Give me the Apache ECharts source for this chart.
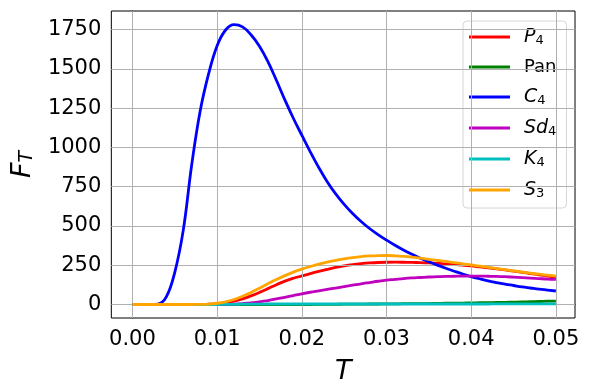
<!DOCTYPE html>
<html>
<head>
<meta charset="utf-8">
<script src="https://cdn.jsdelivr.net/npm/echarts@6/dist/echarts.min.js"></script>
<style>
html, body { margin: 0; padding: 0; background: #fff; }
#chartdata { width: 589px; height: 390px; }
</style>
</head>
<body>
<div id="chartdata"></div>
<script>
var tvals = [0.000, 0.001, 0.002, 0.003, 0.004, 0.005, 0.006, 0.007, 0.008, 0.009,
  0.010, 0.011, 0.012, 0.013, 0.014, 0.015, 0.016, 0.017, 0.018, 0.019,
  0.020, 0.021, 0.022, 0.023, 0.024, 0.025, 0.026, 0.027, 0.028, 0.029,
  0.030, 0.031, 0.032, 0.033, 0.034, 0.035, 0.036, 0.037, 0.038, 0.039,
  0.040, 0.041, 0.042, 0.043, 0.044, 0.045, 0.046, 0.047, 0.048, 0.049, 0.050]

var p4 = [0, 0, 0, 0, 0, 0, 0, 0, 0, 2,
  5, 11, 21, 36, 55, 77, 101, 126, 149, 167,
  182, 197, 211, 224, 236, 246, 254, 260, 264.5, 267.5,
  269, 269.5, 269, 268, 266.5, 264.5, 262, 259, 255, 250.5,
  245.5, 239.5, 233.5, 227, 220, 212.5, 205, 197, 189, 181, 173]
var pan = [0, 0, 0, 0, 0, 0, 0, 0, 0, 0,
  0, 0, 0, 0, 0, 0, 0, 0, 0, 0,
  0, 0, 1, 1, 1, 2, 2, 2, 3, 3,
  4, 4, 5, 5, 6, 6, 7, 8, 8, 9,
  10, 11, 12, 13, 14, 15, 16, 18, 19, 21, 22]
var c4 = [0, 0, 0, 3, 48, 205, 472, 890, 1232, 1470,
  1648, 1748, 1782, 1768, 1718, 1645, 1547, 1428, 1303, 1186,
  1078, 972, 872, 782, 704, 638, 580, 529, 484, 445,
  410, 377, 347, 320, 295, 272, 251, 231, 212, 194,
  178, 164, 151, 140, 130, 121, 112, 105, 98, 92, 86]
var sd4 = [0, 0, 0, 0, 0, 0, 0, 0, 0, 0,
  0, 1, 3, 6, 10, 16, 25, 35, 46, 57,
  68, 78, 87, 96, 105, 114, 123, 132, 140, 148,
  155, 160, 165, 169, 172, 175, 177, 179, 180, 181,
  181, 181, 180, 179, 177, 174, 171, 168, 165, 162, 160]
var k4 = [0, 0, 0, 0, 0, 0, 0, 0, 0, 0,
  0, 1, 1, 2, 2, 2, 3, 3, 3, 3,
  3, 3, 3, 3, 3, 3, 3, 3, 3, 3,
  3, 3, 3, 3, 3, 3, 3, 3, 3, 3,
  3, 3, 3, 4, 4, 4, 4, 4, 4, 4, 4]
var s3 = [0, 0, 0, 0, 0, 0, 0, 0, 1, 3,
  8, 17, 32, 52, 77, 104, 132, 159, 184, 206,
  225, 242, 257, 270, 281, 291, 299, 305, 309, 311.5,
  312, 310, 306, 301, 295, 288, 281, 274, 267, 259,
  252, 244, 237, 229, 222, 214, 207, 200, 193, 187, 181]

var xTicks = [0, 0.01, 0.02, 0.03, 0.04, 0.05]
var yTicks = [0, 250, 500, 750, 1000, 1250, 1500, 1750]

var names = ['P4', 'Pan', 'C4', 'Sd4', 'K4', 'S3']
var colors = ['#ff0000', '#008000', '#0000ff', '#bf00bf', '#00bfbf', '#ffa500']
var values = [p4, pan, c4, sd4, k4, s3]

var chart = echarts.init(document.getElementById('chartdata'))

function pairs (arr) {
  return tvals.map(function (t, i) { return [t, arr[i]] })
}

var gridLines = []
xTicks.forEach(function (v) { gridLines.push({ xAxis: v }) })
yTicks.forEach(function (v) { gridLines.push({ yAxis: v }) })

var series = [{
  name: 'grid',
  type: 'line',
  data: [],
  z: 1,
  silent: true,
  markLine: {
    silent: true,
    symbol: ['none', 'none'],
    label: { show: false },
    lineStyle: { color: '#b0b0b0', width: 1, type: 'solid' },
    emphasis: { disabled: true },
    animation: false,
    data: gridLines
  }
}]
names.forEach(function (n, i) {
  series.push({
    name: n,
    type: 'line',
    data: pairs(values[i]),
    smooth: 0.4,
    showSymbol: false,
    z: 3 + i,
    lineStyle: { color: colors[i], width: 2.8 },
    itemStyle: { color: colors[i] }
  })
})

var option = {
  animation: false,
  textStyle: { fontFamily: 'DejaVu Sans' },
  grid: {
    left: 108,
    right: 14,
    top: 11,
    bottom: 72,
    show: true,
    borderColor: '#000',
    borderWidth: 1
  },
  legend: {
    data: names,
    orient: 'vertical',
    left: 463,
    top: 21,
    padding: [6, 10, 8, 6],
    itemGap: 11,
    itemWidth: 41,
    itemHeight: 3,
    icon: 'rect',
    backgroundColor: 'rgba(255,255,255,0.8)',
    borderColor: '#d6d6d6',
    borderWidth: 1,
    borderRadius: 4,
    formatter: function (name) {
      // leading gap token: legend text sits 5px after the icon by default
      if (name === 'Pan') return '{n|Pan}'
      var m = name.match(/^([A-Za-z]+)(\d+)$/)
      return '{i|' + m[1] + '}{s|' + m[2] + '}'
    },
    textStyle: {
      color: '#000',
      rich: {
        n: { fontSize: 18, fontFamily: 'DejaVu Sans', lineHeight: 20, padding: [0, 0, 0, 9], color: '#000' },
        i: { fontSize: 19, fontFamily: 'DejaVu Sans', fontStyle: 'italic', lineHeight: 20, padding: [0, 0, 0, 9], color: '#000' },
        s: { fontSize: 13, fontFamily: 'DejaVu Sans', lineHeight: 20, padding: [7, 0, 0, 0], color: '#000' }
      }
    }
  },
  xAxis: {
    type: 'value',
    min: -0.00249,
    max: 0.05226,
    name: 'T',
    nameLocation: 'middle',
    nameGap: 40,
    nameTextStyle: { fontSize: 27, fontStyle: 'italic', color: '#000', fontFamily: 'DejaVu Sans' },
    splitLine: { show: false },
    axisLine: { show: true, lineStyle: { color: '#000', width: 1 } },
    axisTick: { show: true, customValues: xTicks, length: 5, lineStyle: { color: '#000' } },
    axisLabel: {
      customValues: xTicks,
      fontSize: 21,
      color: '#000',
      margin: 11,
      formatter: function (v) { return v.toFixed(2) }
    }
  },
  yAxis: {
    type: 'value',
    min: -86,
    max: 1869,
    name: '{f|F}{s|T}',
    nameLocation: 'middle',
    nameRotate: 90,
    nameGap: 72,
    nameTextStyle: {
      color: '#000',
      rich: {
        f: { fontSize: 27, fontStyle: 'italic', fontFamily: 'DejaVu Sans', lineHeight: 30 },
        s: { fontSize: 19, fontStyle: 'italic', fontFamily: 'DejaVu Sans', lineHeight: 30, padding: [10, 0, 0, 0] }
      }
    },
    splitLine: { show: false },
    axisLine: { show: true, lineStyle: { color: '#000', width: 1 } },
    axisTick: { show: true, customValues: yTicks, length: 5, lineStyle: { color: '#000' } },
    axisLabel: {
      customValues: yTicks,
      fontSize: 21,
      color: '#000',
      margin: 10,
      formatter: function (v) { return String(v) }
    }
  },
  series: series
}
chart.setOption(option)
</script>
</body>
</html>
